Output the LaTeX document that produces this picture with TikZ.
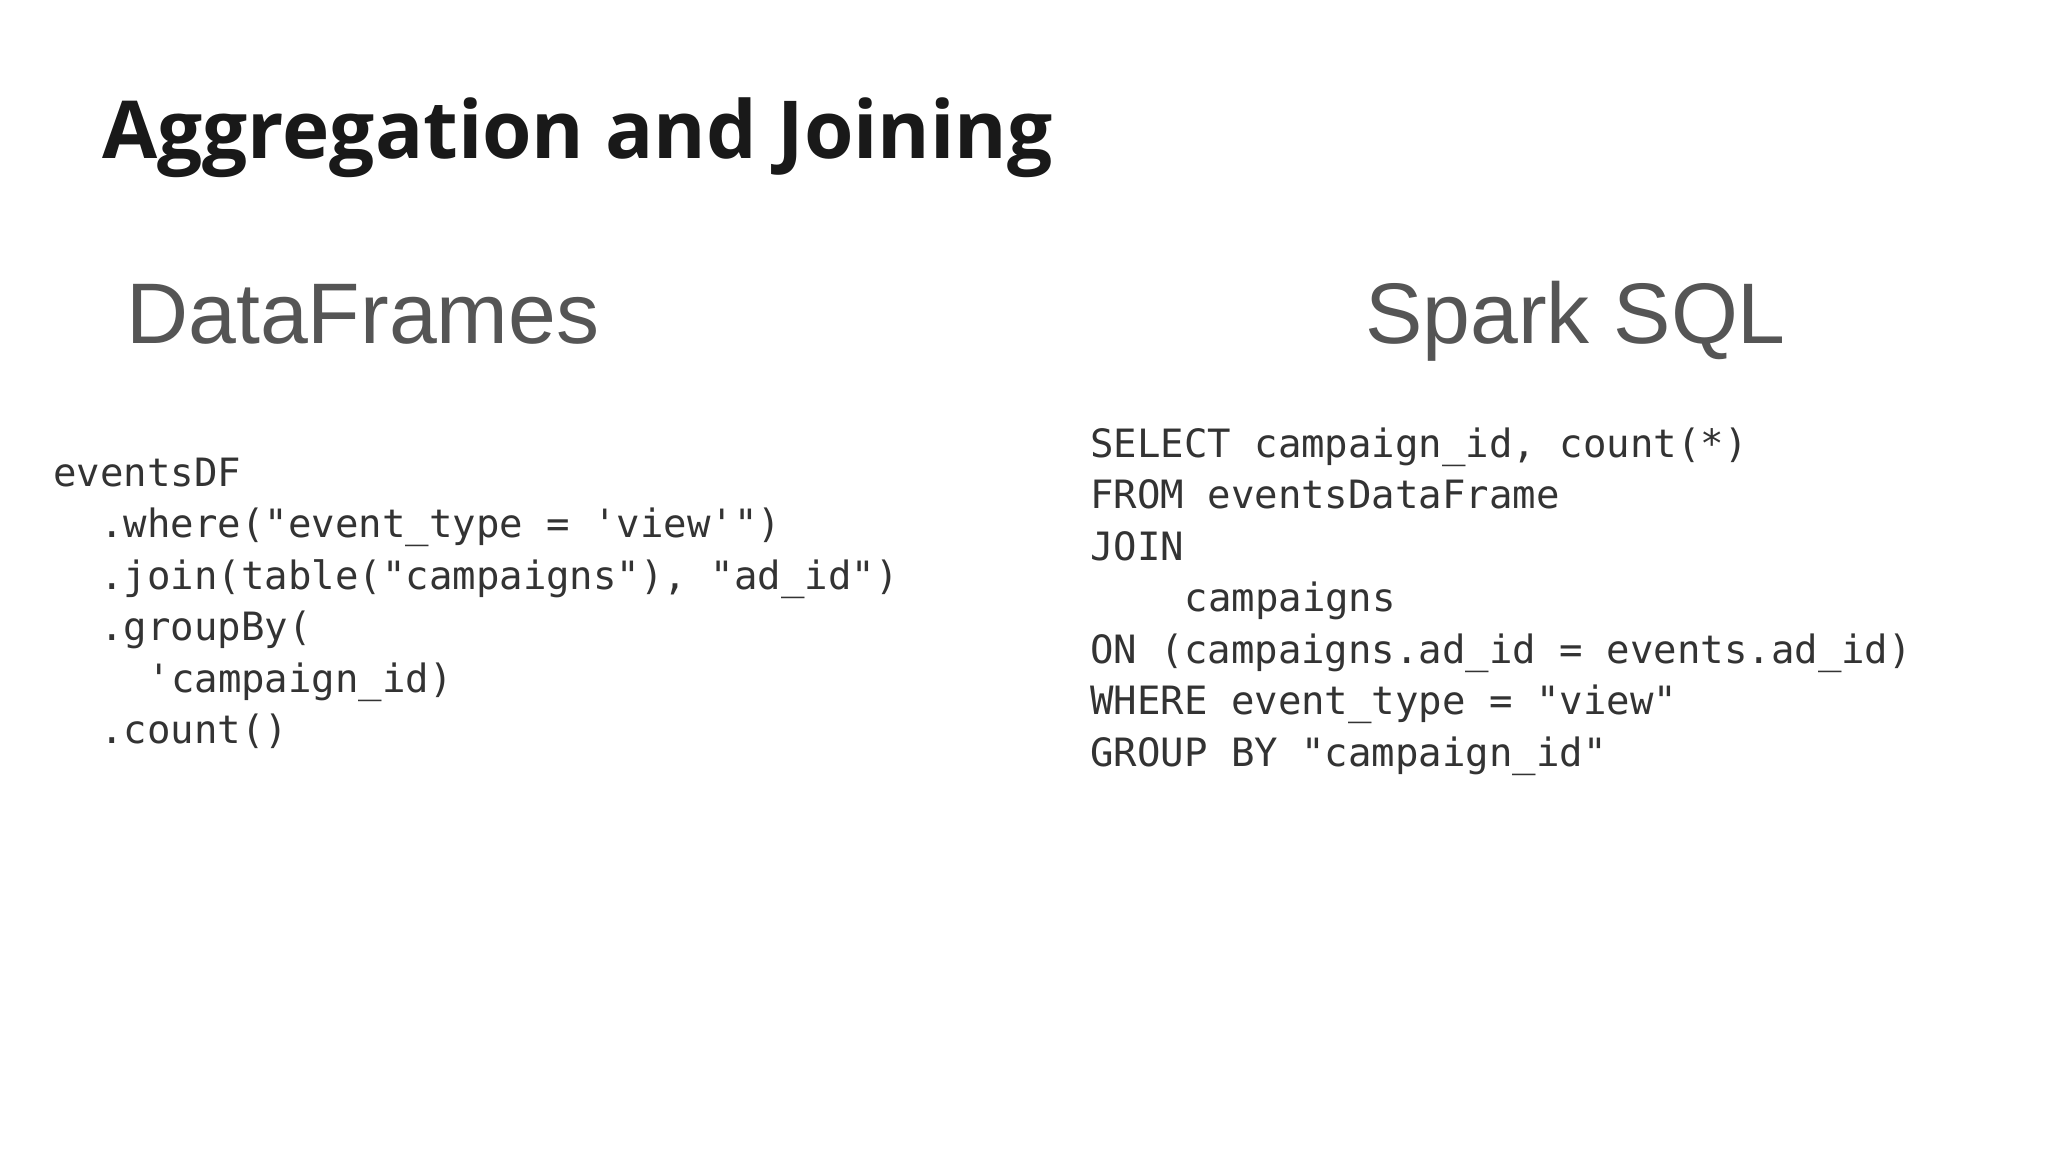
\documentclass[tikz,border=0pt]{standalone}
\usepackage{fontspec}
\newfontfamily\titlefont{Open Sans}
\newfontfamily\headfont{Liberation Sans}
\newfontfamily\codefont{DejaVu Sans Mono}
\definecolor{headgray}{HTML}{555555}
\definecolor{codegray}{HTML}{333333}
\tikzset{
  ttl/.style={anchor=base west,inner sep=0pt,font=\titlefont\bfseries\fontsize{80}{90}\selectfont,text=black!90},
  hd/.style={anchor=base west,inner sep=0pt,font=\headfont\fontsize{86}{96}\selectfont,text=headgray},
  code/.style={anchor=base west,inner sep=0pt,font=\codefont\fontsize{39}{45}\selectfont,text=codegray}
}
\begin{document}
\begin{tikzpicture}[x=1pt,y=-1pt]
\useasboundingbox[fill=white] (0,0) rectangle (2048,1152);
\node[ttl] (title) at (102,158) {Aggregation and Joining};
\node[hd] (df) at (126,343) {DataFrames};
\node[hd] (sql) at (1365,343) {Spark SQL};
\def\cw{23.6}
\def\ls{51.5}
% left code
\node[code] (l1) at (53,486) {eventsDF};
\node[code] (l2) at (53+2*\cw,486+\ls) {.where("event\_type = 'view'")};
\node[code] (l3) at (53+2*\cw,486+2*\ls) {.join(table("campaigns"), "ad\_id")};
\node[code] (l4) at (53+2*\cw,486+3*\ls) {.groupBy(};
\node[code] (l5) at (53+4*\cw,486+4*\ls) {'campaign\_id)};
\node[code] (l6) at (53+2*\cw,486+5*\ls) {.count()};
% right code
\node[code] (r1) at (1090,457) {SELECT campaign\_id, count(*)};
\node[code] (r2) at (1090,457+\ls) {FROM eventsDataFrame};
\node[code] (r3) at (1090,457+2*\ls) {JOIN};
\node[code] (r4) at (1090+4*\cw,457+3*\ls) {campaigns};
\node[code] (r5) at (1090,457+4*\ls) {ON (campaigns.ad\_id = events.ad\_id)};
\node[code] (r6) at (1090,457+5*\ls) {WHERE event\_type = "view"};
\node[code] (r7) at (1090,457+6*\ls) {GROUP BY "campaign\_id"};
\end{tikzpicture}
\end{document}
